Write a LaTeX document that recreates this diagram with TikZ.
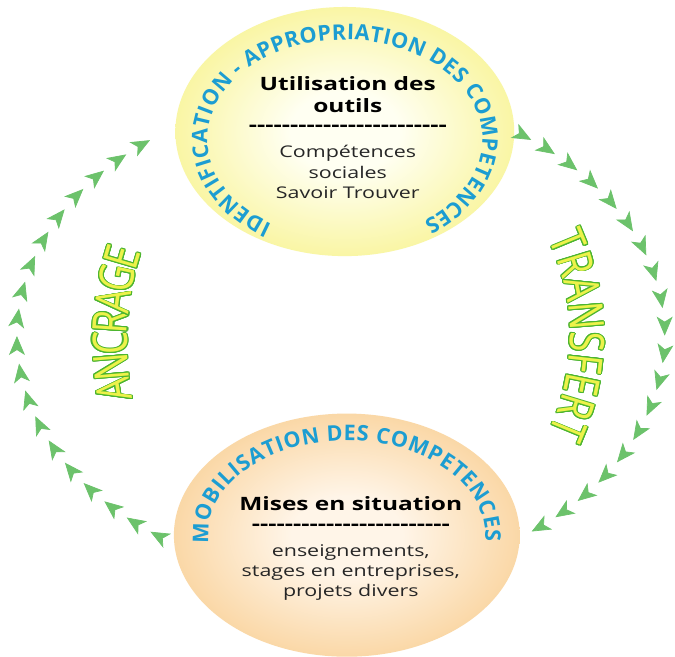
\documentclass[tikz,border=0pt]{standalone}
\usepackage{fontspec}
\setmainfont{Open Sans}
\usepackage{contour}
\usepackage{tikz}
\usetikzlibrary{positioning,shapes.geometric,arrows.meta,decorations.text,decorations.markings}
\definecolor{ringBlue}{HTML}{1C9DD2}
\definecolor{loopGreen}{HTML}{6CC26B}
\definecolor{wordGreen}{HTML}{4CB52F}
\definecolor{wordYellow}{HTML}{EDF24A}
\definecolor{topCore}{HTML}{FFFFF2}
\definecolor{topRim}{HTML}{F3EB4E}
\definecolor{botCore}{HTML}{FFF5E8}
\definecolor{botRim}{HTML}{F5B75E}
\pgfdeclareradialshading{topglow}{\pgfpointorigin}{color(0bp)=(topCore); color(8bp)=(topCore); color(44bp)=(topRim); color(50bp)=(topRim)}
\pgfdeclareradialshading{botglow}{\pgfpointorigin}{color(0bp)=(botCore); color(8bp)=(botCore); color(44bp)=(botRim); color(50bp)=(botRim)}
\contourlength{0.5pt}
\newcommand\loopletter[1]{\contour{wordGreen}{#1}}
\newcommand\ringfont{\fontsize{12.3}{12.3}\selectfont\bfseries\color{ringBlue}}
\newcommand\dashrow{\foreach\k in {1,...,24}{-\kern0pt}}

\begin{document}
\begin{tikzpicture}[
        hub/.style={ellipse, inner sep=0pt},
        headtext/.style={inner sep=0pt, align=center, xscale=1.33,
                         font=\bfseries\fontsize{10.5}{12.5}\selectfont},
        dashtext/.style={inner sep=0pt, xscale=1.33, font=\bfseries\fontsize{11}{11}\selectfont},
        bodytext/.style={inner sep=0pt, align=center, xscale=1.33,
                         font=\fontsize{9.2}{11.6}\selectfont, text=black!85},
        ringtext/.style={decorate, decoration={text along path, text align={fit to path}}},
        wordtext/.style={decorate, decoration={text effects along path,
                         text effects/.cd, text along path, fit text to path,
                         character command=\loopletter,
                         every character/.append style={font=\fontsize{21}{21}\selectfont,
                                                        text=wordYellow, yscale=1.3}}},
        cyclearrows/.style={decorate, decoration={markings,
                         mark=between positions 0 and 1 step 0.0555 with
                         {\arrow{Stealth[length=3.8mm, width=3.2mm, inset=1mm, color=loopGreen]}}}}
    ]
        \fill[white] (0,0) rectangle (13.5,13.18);

        % the two discs
        \node[hub, shading=topglow, minimum width=6.8cm, minimum height=5cm] (top) at (6.92,10.54) {};
        \node[hub, shading=botglow, minimum width=6.94cm, minimum height=4.88cm] (bot) at (6.96,2.44) {};

        % lettering round the discs
        \path[ringtext, decoration={text={|\ringfont|IDENTIFICATION - APPROPRIATION DES COMPETENCES}}]
            ([yshift=-0.16cm]top.center) ++(238:2.76 and 2.0)
            arc[start angle=238, end angle=-55, x radius=2.76, y radius=2.0];
        \path[ringtext, decoration={text={|\ringfont|MOBILISATION DES COMPETENCES}}]
            (bot.center) ++(185:2.78 and 1.9)
            arc[start angle=185, end angle=-4, x radius=2.78, y radius=1.9];

        % upper disc
        \node[headtext] (topHead) at (6.98,11.28) {Utilisation des\\outils};
        \node[dashtext, below=0.24cm of topHead] (topDash) {\dashrow};
        \node[bodytext, below=0.26cm of topDash] (topBody) {Compétences\\sociales\\Savoir Trouver};

        % lower disc
        \node[headtext] (botHead) at (7.04,3.07) {Mises en situation};
        \node[dashtext, below=0.26cm of botHead] (botDash) {\dashrow};
        \node[bodytext, below=0.26cm of botDash] (botBody) {enseignements,\\stages en entreprises,\\projets divers};

        % the loop
        \coordinate (hub) at (6.84,6.44);
        \coordinate (ancpivot) at (8.25,6.31);
        \path[cyclearrows] (hub) ++(54:6.5 and 4.86)
            arc[start angle=54, end angle=-54, x radius=6.5, y radius=4.86];
        \path[cyclearrows] (hub) ++(234:6.5 and 4.86)
            arc[start angle=234, end angle=126, x radius=6.5, y radius=4.86];

        \path[wordtext, decoration={text={TRANSFERT}}]
            (hub) ++(25:4.6) arc[start angle=25, end angle=-25, radius=4.6];
        \path[wordtext, decoration={text={ANCRAGE}}]
            (ancpivot) ++(191.5:5.7) arc[start angle=191.5, end angle=161.5, radius=5.7];
    \end{tikzpicture}
\end{document}
